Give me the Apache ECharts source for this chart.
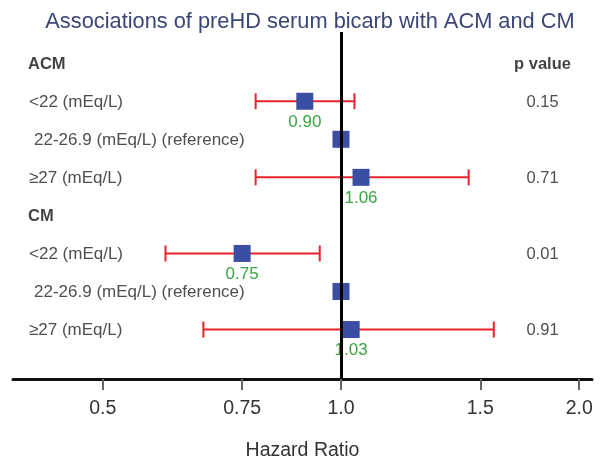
<!DOCTYPE html>
<html>
<head>
<meta charset="utf-8">
<script src="https://cdn.jsdelivr.net/npm/echarts@6/dist/echarts.min.js"></script>
<style>
html,body{margin:0;padding:0;background:#fff;}
#chart{width:605px;height:466px;}
</style>
</head>
<body>
<div id="chart"></div>
<script>
// ---- data ----
const titleText = 'Associations of preHD serum bicarb with ACM and CM';
const rowLabels = ['ACM', '<22 (mEq/L)', '22-26.9 (mEq/L) (reference)', '\u226527 (mEq/L)',
                   'CM', '<22 (mEq/L)', '22-26.9 (mEq/L) (reference)', '\u226527 (mEq/L)'];
const headerRows = [true, false, false, false, true, false, false, false];
const referenceRows = [false, false, true, false, false, false, true, false];
const hazardRatio = [null, 0.90, 1.00, 1.06, null, 0.75, 1.00, 1.03];
const ciLower = [null, 0.78, null, 0.78, null, 0.60, null, 0.67];
const ciUpper = [null, 1.04, null, 1.45, null, 0.94, null, 1.56];
const hrLabels = [null, '0.90', null, '1.06', null, '0.75', null, '1.03'];
const pHeader = 'p value';
const pValues = [null, '0.15', null, '0.71', null, '0.01', null, '0.91'];
const tickValues = [0.5, 0.75, 1.0, 1.5, 2.0];
const tickLabels = ['0.5', '0.75', '1.0', '1.5', '2.0'];
const axisMinHR = 0.385, axisMaxHR = 2.076;
const rowMin = -0.82, rowMax = 8.3;
const axisName = 'Hazard Ratio';

// ---- chart ----
const ln = Math.log;
const xMin = ln(axisMinHR), xMax = ln(axisMaxHR);
const FONT = '"Liberation Sans", Arial, sans-serif';
const chart = echarts.init(document.getElementById('chart'), null, {renderer: 'canvas'});

const errData = [];
rowLabels.forEach((_, i) => {
  if (ciLower[i] != null) errData.push([ln(ciLower[i]), ln(ciUpper[i]), i]);
});
const pointData = [];
rowLabels.forEach((_, i) => {
  if (hazardRatio[i] != null) pointData.push({value: [ln(hazardRatio[i]), i], lbl: hrLabels[i]});
});

const labelData = rowLabels.map((t, i) => ({
  value: [xMin, i],
  label: {
    show: true, position: 'inside', align: 'left',
    offset: [headerRows[i] ? 15 : (referenceRows[i] ? 21 : 16), 1],
    formatter: t,
    fontFamily: FONT,
    fontSize: headerRows[i] ? 16.5 : 17,
    fontWeight: headerRows[i] ? 'bold' : 'normal',
    color: headerRows[i] ? '#111' : '#222'
  }
}));
const pData = [{value: [xMax, 0], txt: pHeader, bold: true}];
pValues.forEach((p, i) => { if (p != null) pData.push({value: [xMax, i], txt: p, bold: false}); });

const option = {
  animation: false,
  backgroundColor: '#fff',
  title: {
    text: titleText, left: 305, top: 6, textAlign: 'center',
    textStyle: {fontFamily: FONT, fontSize: 21.8, fontWeight: 'normal', color: '#3b4576'}
  },
  grid: {left: 13, right: 13, top: 32, bottom: 83},
  xAxis: {
    type: 'value', min: xMin, max: xMax,
    name: axisName, nameLocation: 'middle', nameGap: 62,
    nameTextStyle: {fontFamily: FONT, fontSize: 19.5, color: '#333'},
    axisLine: {show: true, onZero: false, lineStyle: {color: '#111', width: 3}},
    axisTick: {show: true, inside: false, length: 11, customValues: tickValues.map(ln),
               lineStyle: {color: '#666', width: 2}},
    axisLabel: {show: true, customValues: tickValues.map(ln), margin: 20,
                fontFamily: FONT, fontSize: 19.5, color: '#333',
                formatter: v => {
                  let best = 0;
                  tickValues.forEach((t, k) => { if (Math.abs(ln(t) - v) < Math.abs(ln(tickValues[best]) - v)) best = k; });
                  return tickLabels[best];
                }},
    splitLine: {show: false}
  },
  yAxis: {
    type: 'value', inverse: true, min: rowMin, max: rowMax,
    axisLine: {show: false}, axisTick: {show: false}, axisLabel: {show: false}, splitLine: {show: false}
  },
  series: [
    {
      type: 'custom', z: 1, silent: true,
      data: errData,
      renderItem: (params, api) => {
        const a = api.coord([api.value(0), api.value(2)]);
        const b = api.coord([api.value(1), api.value(2)]);
        const h = 8;
        const st = {stroke: '#e8232b', lineWidth: 2};
        return {type: 'group', children: [
          {type: 'line', shape: {x1: a[0], y1: a[1], x2: b[0], y2: b[1]}, style: st},
          {type: 'line', shape: {x1: a[0], y1: a[1] - h, x2: a[0], y2: a[1] + h}, style: st},
          {type: 'line', shape: {x1: b[0], y1: b[1] - h, x2: b[0], y2: b[1] + h}, style: st}
        ]};
      }
    },
    {
      type: 'scatter', z: 2, silent: true, symbolSize: 0, data: [],
      markLine: {
        silent: true, symbol: 'none', animation: false,
        label: {show: false},
        lineStyle: {color: '#000', width: 3, type: 'solid'},
        data: [{xAxis: ln(1)}]
      }
    },
    {
      type: 'scatter', z: 3, silent: true,
      symbol: 'rect', symbolSize: 17,
      itemStyle: {color: '#3a4ea3', opacity: 1},
      data: pointData,
      label: {
        show: true, position: 'inside', offset: [0, 21],
        fontFamily: FONT, fontSize: 17, color: '#3aa444',
        formatter: p => p.data.lbl || ''
      }
    },
    {
      type: 'scatter', z: 4, silent: true, symbolSize: 0,
      data: labelData
    },
    {
      type: 'scatter', z: 4, silent: true, symbolSize: 0,
      data: pData.map(d => ({
        value: d.value,
        label: {
          show: true, position: 'inside', align: 'center', offset: [-49.5, 1],
          formatter: d.txt, fontFamily: FONT, fontSize: 16.5,
          fontWeight: d.bold ? 'bold' : 'normal', color: d.bold ? '#111' : '#222'
        }
      }))
    }
  ]
};
chart.setOption(option);
</script>
</body>
</html>
